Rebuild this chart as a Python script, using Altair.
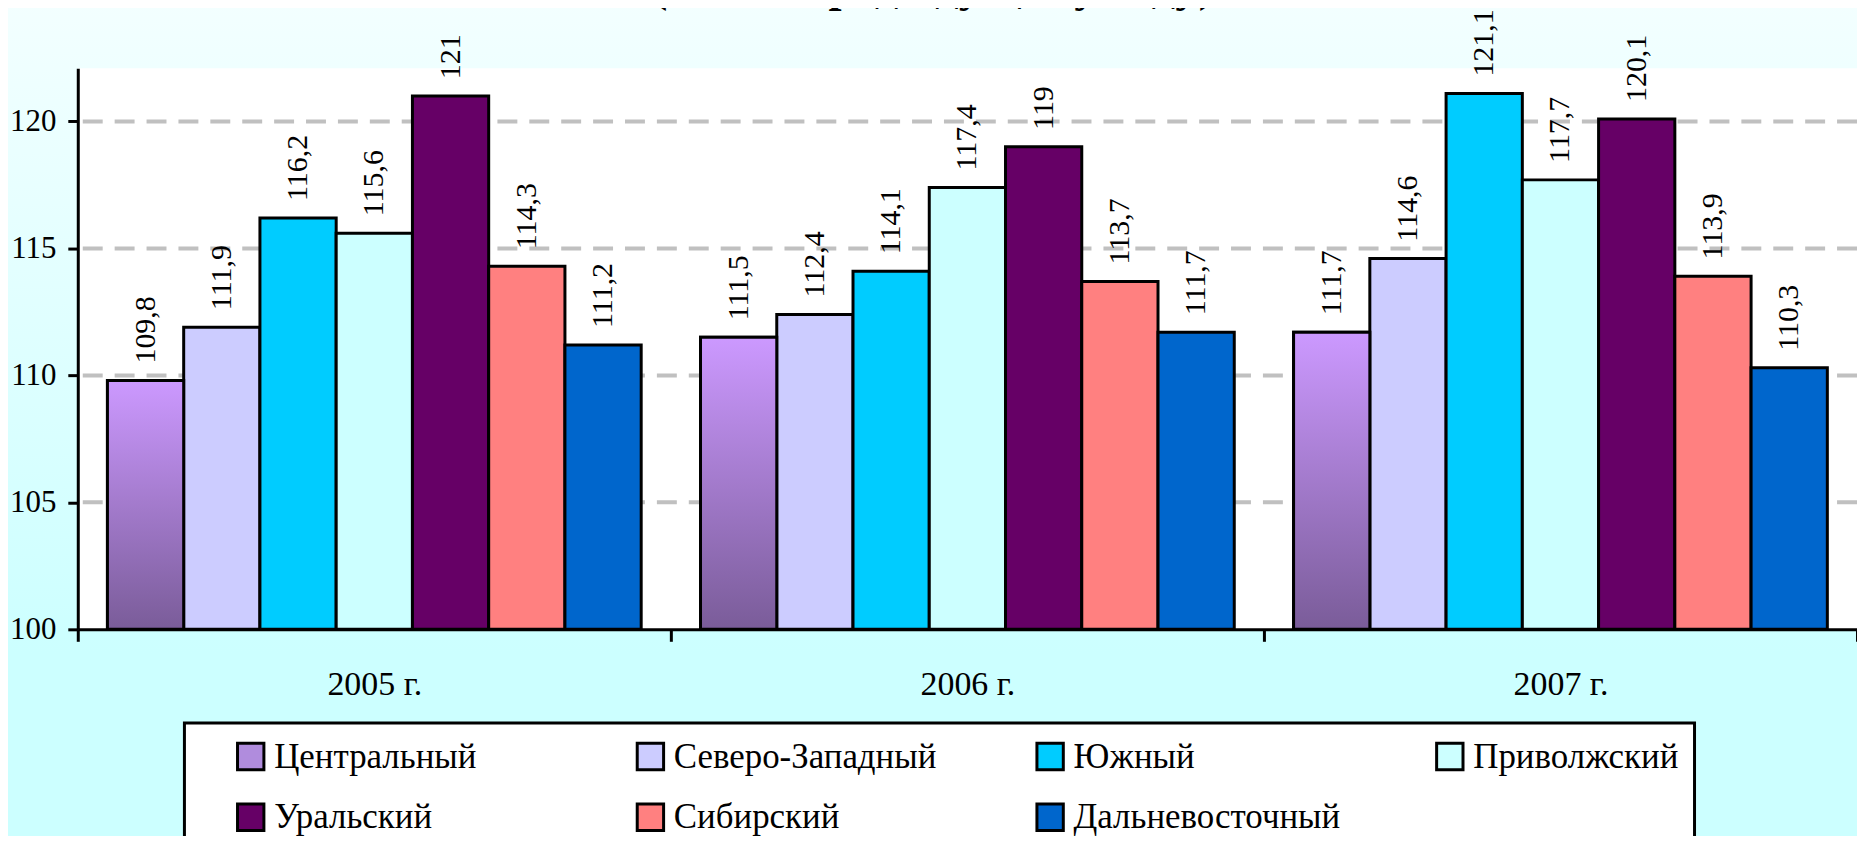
import altair as alt
import pandas as pd

# ---- data ----
regions = ["Центральный", "Северо-Западный", "Южный", "Приволжский",
           "Уральский", "Сибирский", "Дальневосточный"]
years = ["2005 г.", "2006 г.", "2007 г."]
v2005 = [109.8, 111.9, 116.2, 115.6, 121.0, 114.3, 111.2]
v2006 = [111.5, 112.4, 114.1, 117.4, 119.0, 113.7, 111.7]
v2007 = [111.7, 114.6, 121.1, 117.7, 120.1, 113.9, 110.3]
colors = ["#B08CDD", "#CCCCFF", "#00CCFF", "#CCFFFF",
          "#660066", "#FF8080", "#0066CC"]
grid_values = [105, 110, 115, 120]
y_ticks = [100, 105, 110, 115, 120]
title_text = "(в % к предыдущему году)"

rows = []
for yr, vals in zip(years, [v2005, v2006, v2007]):
    for reg, v in zip(regions, vals):
        rows.append({"year": yr, "region": reg, "value": v,
                     "label": f"{v:g}".replace(".", ",")})
df = pd.DataFrame(rows)

W, H = 1785, 563
FONT = "Liberation Serif, Times New Roman, serif"

yscale = alt.Scale(domain=[100, 122.1], zero=False, nice=False)
xscale = alt.Scale(paddingInner=0, paddingOuter=0)
offscale = alt.Scale(domain=regions, paddingInner=0, paddingOuter=0.389)

y_axis = alt.Axis(title=None, values=y_ticks, grid=False,
                  domainColor="black", domainWidth=3,
                  tickColor="black", tickWidth=3, tickSize=10,
                  labelFont=FONT, labelFontSize=31, labelColor="black",
                  labelPadding=12, zindex=1)
x_axis = alt.Axis(title=None, labelAngle=0, tickBand="extent",
                  domainColor="black", domainWidth=3,
                  tickColor="black", tickWidth=3, tickSize=12,
                  labelFont=FONT, labelFontSize=34, labelColor="black",
                  labelPadding=26, zindex=1)

# background gradient & white plot area
bg = alt.Chart(pd.DataFrame({"a": [0]})).mark_rect(
    fill={"gradient": "linear", "x1": 0, "y1": 0, "x2": 0, "y2": 1,
          "stops": [{"offset": 0, "color": "#F3FFFF"},
                    {"offset": 0.76, "color": "#CCFFFF"},
                    {"offset": 1, "color": "#CCFFFF"}]}
).encode(x=alt.value(-80), x2=alt.value(W + 20),
         y=alt.value(-67), y2=alt.value(H + 230))

plot_bg = alt.Chart(pd.DataFrame({"a": [0]})).mark_rect(fill="white").encode(
    x=alt.value(0), x2=alt.value(W), y=alt.value(0), y2=alt.value(H))

grid = alt.Chart(pd.DataFrame({"value": grid_values})).mark_rule(
    color="#C0C0C0", strokeWidth=4, strokeDash=[20, 12]
).encode(y=alt.Y("value:Q", scale=yscale, axis=y_axis))

x_enc = alt.X("year:N", sort=years, scale=xscale, axis=x_axis)
y_enc = alt.Y("value:Q", scale=yscale, axis=y_axis)
off_enc = alt.XOffset("region:N", sort=regions, scale=offscale)

bars = alt.Chart(df).mark_bar(stroke="black", strokeWidth=3).encode(
    x=x_enc, xOffset=off_enc, y=y_enc, y2=alt.datum(100),
    color=alt.Color("region:N", sort=regions,
                    scale=alt.Scale(domain=regions, range=colors),
                    legend=alt.Legend(
                        orient="none", legendX=107, legendY=657,
                        direction="horizontal", columns=4, gridAlign="all",
                        title="\u2003", titleOrient="left", titleFontSize=1,
                        titlePadding=33,
                        symbolType="square", symbolSize=700,
                        symbolStrokeColor="black", symbolStrokeWidth=3,
                        symbolOpacity=1,
                        labelFont=FONT, labelFontSize=35, labelColor="black",
                        labelOffset=6, labelLimit=600,
                        columnPadding=90, rowPadding=22, padding=16,
                        fillColor="white", strokeColor="black")))

central = alt.Chart(df).transform_filter(
    alt.datum.region == regions[0]
).mark_bar(
    stroke="black", strokeWidth=3,
    fill={"gradient": "linear", "x1": 0, "y1": 0, "x2": 0, "y2": 1,
          "stops": [{"offset": 0, "color": "#CC99FF"},
                    {"offset": 1, "color": "#7A5C99"}]}
).encode(x=x_enc, xOffset=off_enc, y=y_enc, y2=alt.datum(100))

labels = alt.Chart(df).mark_text(
    angle=270, align="left", baseline="middle", dx=17,
    font=FONT, fontSize=30, color="black"
).encode(x=x_enc, xOffset=off_enc, y=y_enc, text="label:N")

title = alt.Chart(pd.DataFrame({"t": [title_text]})).mark_text(
    font=FONT, fontSize=47, fontWeight="bold", align="center",
    baseline="alphabetic", color="black"
).encode(x=alt.value(858), y=alt.value(-67), text="t:N")

chart = alt.layer(bg, plot_bg, grid, bars, central, labels, title).properties(
    width=W, height=H,
    padding={"left": 70, "top": 59, "right": 0, "bottom": 206},
    autosize=alt.AutoSizeParams(type="none"),
).configure_view(stroke=None).configure_legend(strokeWidth=3)

chart.save("out.html", embed_options={"renderer": "svg", "actions": False})
